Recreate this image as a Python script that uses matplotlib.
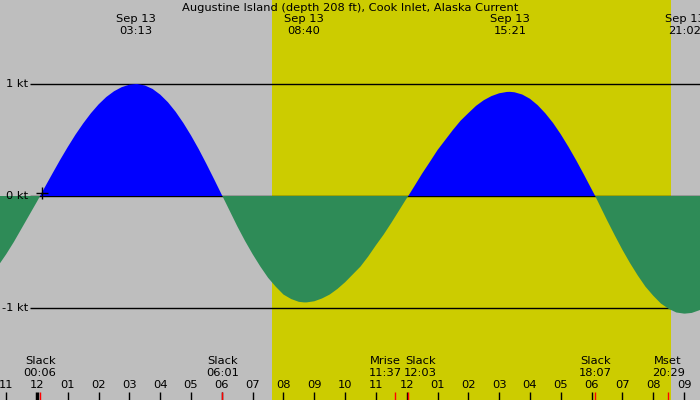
import matplotlib
matplotlib.use('Agg')
import matplotlib.pyplot as plt

# hours after local midnight, Sep 13
times = [-1.5, -1.25, -1.0, -0.75, -0.5, -0.25, 0.0, 0.1, 0.25, 0.5,
         0.75, 1.0, 1.25, 1.5, 1.75, 2.0, 2.25, 2.5, 2.75, 3.0,
         3.217, 3.25, 3.5, 3.75, 4.0, 4.25, 4.5, 4.75, 5.0, 5.25,
         5.5, 5.75, 6.0, 6.017, 6.25, 6.5, 6.75, 7.0, 7.25, 7.5,
         7.75, 8.0, 8.25, 8.5, 8.667, 8.75, 9.0, 9.25, 9.5, 9.75,
         10.0, 10.25, 10.5, 10.75, 11.0, 11.25, 11.5, 11.75, 12.0, 12.05,
         12.25, 12.5, 12.75, 13.0, 13.25, 13.5, 13.75, 14.0, 14.25, 14.5,
         14.75, 15.0, 15.25, 15.35, 15.5, 15.75, 16.0, 16.25, 16.5, 16.75,
         17.0, 17.25, 17.5, 17.75, 18.0, 18.117, 18.25, 18.5, 18.75, 19.0,
         19.25, 19.5, 19.75, 20.0, 20.25, 20.5, 20.75, 21.0, 21.033, 21.25,
         21.5, 21.75, 22.0]
# current speed in knots (flood +, ebb -)
speed = [-0.71, -0.62, -0.52, -0.41, -0.29, -0.17, -0.05, 0.0, 0.076, 0.20,
         0.322, 0.438, 0.548, 0.648, 0.739, 0.818, 0.884, 0.935, 0.972, 0.994,
         1.0, 1.0, 0.987, 0.956, 0.905, 0.837, 0.752, 0.652, 0.540, 0.418,
         0.286, 0.149, 0.009, 0.0, -0.13, -0.27, -0.40, -0.52, -0.63, -0.73,
         -0.81, -0.88, -0.92, -0.945, -0.95, -0.95, -0.94, -0.915, -0.88, -0.83,
         -0.77, -0.70, -0.63, -0.54, -0.44, -0.345, -0.24, -0.13, -0.02, 0.0,
         0.088, 0.20, 0.304, 0.41, 0.50, 0.59, 0.673, 0.74, 0.805, 0.855,
         0.892, 0.917, 0.929, 0.93, 0.926, 0.906, 0.868, 0.811, 0.738, 0.652,
         0.551, 0.439, 0.319, 0.192, 0.061, 0.0, -0.075, -0.215, -0.35, -0.48,
         -0.60, -0.71, -0.81, -0.89, -0.96, -1.007, -1.04, -1.05, -1.05, -1.044,
         -1.02, -0.98, -0.92]

ext_times = [3.217, 8.667, 15.35, 21.033]
ext_labels = ['03:13', '08:40', '15:21', '21:02']

event_names = ['Slack', 'Slack', 'Mrise', 'Slack', 'Slack', 'Mset']
event_times = [0.1, 6.017, 11.617, 12.05, 18.117, 20.483]
event_labels = ['00:06', '06:01', '11:37', '12:03', '18:07', '20:29']
label_shift = [0, 0, -10, 12, 0, 0]  # px, keeps labels apart

hours = list(range(-1, 22))
hour_labels = ['11', '12', '01', '02', '03', '04', '05', '06', '07', '08', '09', '10',
               '11', '12', '01', '02', '03', '04', '05', '06', '07', '08', '09']

sunrise = 7.63
sunset = 20.58

W, H = 700, 400
x0, pph = 37, 30.81  # midnight pixel, pixels per hour


def px2t(px):
    return (px - x0) / pph


def yfr(py):
    return 1 - py / H


fig = plt.figure(figsize=(7, 4), dpi=100, facecolor='#bebebe')
ax = fig.add_axes([0, 0, 1, 1])
ax.set_facecolor('#bebebe')
ax.set_xlim(px2t(0), px2t(W))
ax.set_ylim(-204 / 112, 196 / 112)
ax.axis('off')

ax.axvspan(sunrise, sunset, color='#cccc00', lw=0, zorder=0)

ax.hlines([1, 0, -1], px2t(30), px2t(W), color='black', lw=1, zorder=1)

ax.fill_between(times, speed, 0, where=[v >= 0 for v in speed], interpolate=True,
                color='#0000ff', lw=0, zorder=2)
ax.fill_between(times, speed, 0, where=[v <= 0 for v in speed], interpolate=True,
                color='#2e8b57', lw=0, zorder=2)

ax.plot([px2t(42)], [0.03], marker='+', color='black', ms=8, mew=1, zorder=3)

fs = 8.25
for v, s in zip([1, 0, -1], ['1 kt', '0 kt', '-1 kt']):
    ax.text(px2t(28), v, s, ha='right', va='center', fontsize=fs, zorder=4)

tr = ax.get_xaxis_transform()
ax.text(px2t(350), yfr(8), 'Augustine Island (depth 208 ft), Cook Inlet, Alaska Current',
        transform=tr, ha='center', va='center', fontsize=fs)

for t, lab in zip(ext_times, ext_labels):
    ax.text(t, yfr(19), 'Sep 13', transform=tr, ha='center', va='center', fontsize=fs)
    ax.text(t, yfr(31), lab, transform=tr, ha='center', va='center', fontsize=fs)

for name, t, lab, dx in zip(event_names, event_times, event_labels, label_shift):
    ax.text(t + dx / pph, yfr(361), name, transform=tr, ha='center', va='center', fontsize=fs)
    ax.text(t + dx / pph, yfr(373), lab, transform=tr, ha='center', va='center', fontsize=fs)

for h, lab in zip(hours, hour_labels):
    ax.text(h, yfr(385), lab, transform=tr, ha='center', va='center', fontsize=fs)
    ax.plot([h, h], [0, 8 / H], transform=tr, color='black',
            lw=2.5 if h == 0 else 1, solid_capstyle='butt')

for t in event_times:
    ax.plot([t, t], [0, 8 / H], transform=tr, color='red', lw=1, solid_capstyle='butt')

fig.savefig('out.png', dpi=100, facecolor=fig.get_facecolor())
